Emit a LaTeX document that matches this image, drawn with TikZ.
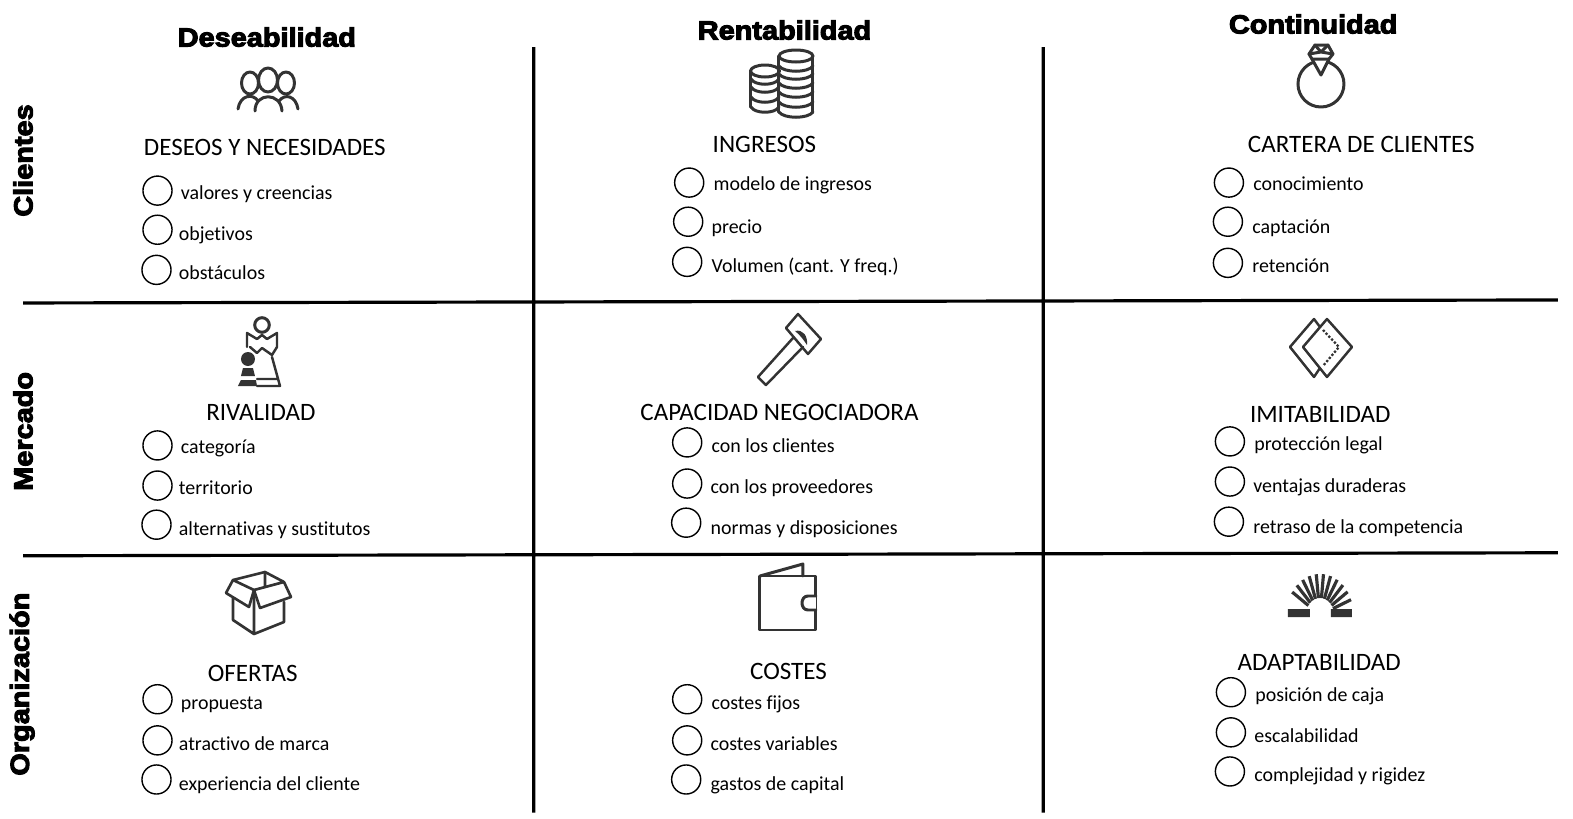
\documentclass[tikz,border=0pt]{standalone}
\usepackage{fontspec}
\setmainfont[Ligatures=NoCommon]{Carlito}
\newfontfamily\headfont[FakeBold=4,FakeStretch=1.1]{Liberation Sans}
\definecolor{icongray}{HTML}{333333}
\tikzset{
  headtext/.style={font=\headfont\bfseries\fontsize{14.9}{15}\selectfont,inner sep=0pt},
  sidetext/.style={headtext,rotate=90},
  titletext/.style={font=\fontsize{14.2}{15}\selectfont,inner sep=0pt,text height=11.5pt,text depth=0.2pt},
  itemtext/.style={font=\fontsize{11.3}{13}\selectfont,inner sep=0pt,anchor=west,text height=9.6pt,text depth=1.2pt},
  tickmark/.style={draw,circle,line width=0.8pt,inner sep=0pt,minimum size=16.5pt},
  gridline/.style={line width=1.8pt},
  icon/.style={draw=icongray,line width=1.7pt,line join=round,line cap=round},
  iconfill/.style={fill=icongray,draw=none}
}
\begin{document}
\begin{tikzpicture}[x=0.02cm,y=-0.02cm]
\path[use as bounding box] (0,0) rectangle (1568,816);
% grid
\coordinate (v1t) at (532,47); \coordinate (v1b) at (532,810);
\coordinate (v2t) at (1040,47); \coordinate (v2b) at (1040,810);
\coordinate (h1l) at (23,302); \coordinate (h1r) at (1553,299);
\coordinate (h2l) at (23,554); \coordinate (h2r) at (1553,551);
\draw[gridline] (v1t)--(v1b) (v2t)--(v2b) (h1l)--(h1r) (h2l)--(h2r);
% headings
\node[headtext] (deseabilidad) at (266,37) {Deseabilidad};
\node[headtext] (rentabilidad) at (782,30) {Rentabilidad};
\node[headtext] (continuidad) at (1309,24) {Continuidad};
\node[sidetext] (clientes) at (23,160) {Clientes};
\node[sidetext] (mercado) at (23,430) {Mercado};
\node[sidetext] (organizacion) at (22,682) {Organización};
% cell titles
\foreach \n/\x/\y/\t in {deseos/264/145/DESEOS Y NECESIDADES,ingresos/762/142/INGRESOS,cartera/1357/142/CARTERA DE CLIENTES,
  rivalidad/260/409/RIVALIDAD,capacidad/777/409/CAPACIDAD NEGOCIADORA,imitabilidad/1316/411/IMITABILIDAD,
  ofertas/252/669/OFERTAS,costes/786/667/COSTES,adaptabilidad/1315/658/ADAPTABILIDAD}
  {\node[titletext] (\n) at (\x,\y) {\t};}
% checklist items
\foreach \n/\cx/\cy/\tx/\ty/\t in {
  a1/157/190/180/191/valores y creencias,a2/157/229/178/232/objetivos,a3/156/269/178/271/obstáculos,
  b1/687/182/711/183/modelo de ingresos,b2/686/221/709/225/precio,b3/685/261/709/264/Volumen (cant. Y freq.),
  c1/1225/182/1249/183/conocimiento,c2/1224/221/1248/225/captación,c3/1224/262/1248/264/retención,
  d1/157/444/180/445/categoría,d2/157/484/178/486/territorio,d3/156/523/178/526/alternativas y sustitutos,
  e1/685/441/709/444/con los clientes,e2/685/482/708/485/con los proveedores,e3/684/521/708/525/normas y disposiciones,
  f1/1226/440/1250/442/protección legal,f2/1226/480/1249/484/ventajas duraderas,f3/1225/520/1249/524/retraso de la competencia,
  g1/157/697/180/700/propuesta,g2/157/738/178/741/atractivo de marca,g3/156/777/178/781/experiencia del cliente,
  h1/685/697/709/700/costes fijos,h2/685/738/708/741/costes variables,h3/684/777/708/781/gastos de capital,
  i1/1227/690/1251/692/posición de caja,i2/1227/730/1250/733/escalabilidad,i3/1226/769/1250/772/complejidad y rigidez}
  {\node[tickmark] (tick\n) at (\cx,\cy) {};
   \node[itemtext] (item\n) at (\tx,\ty) {\t};}
% icons, at the coordinates of the full-size reference
\begin{scope}[scale=0.9968]
% people
\draw[icon] (250,83) ellipse [x radius=8.5,y radius=11];
\draw[icon] (286,83) ellipse [x radius=8.5,y radius=11];
\draw[icon,fill=white] (268,80) ellipse [x radius=9.5,y radius=12];
\draw[icon] (255,111) .. controls (255,92) and (281,92) .. (282,111);
\draw[icon] (238,109) .. controls (240,95) and (253,93) .. (258,101);
\draw[icon] (279,101) .. controls (285,93) and (296,96) .. (298,109);
% coins
\foreach \y in {85,93,103,113} {\draw[icon] (751,\y-6) .. controls (755,\y+1) and (775,\y+1) .. (779,\y-6);}
\draw[icon] (765,71) ellipse [x radius=14.5,y radius=6];
\draw[icon] (751,71)--(751,107);
\draw[icon,fill=white] (796,56) ellipse [x radius=17,y radius=6];
\foreach \y in {72,80,89,98,108,118} {\draw[icon] (779,\y-6) .. controls (784,\y+1) and (808,\y+1) .. (813,\y-6);}
\draw[icon] (779,56)--(779,112) (813,56)--(813,112);
% ring
\draw[icon] (1321,84) circle [radius=23];
\draw[icon,fill=white] (1315,45)--(1328,45)--(1333,54)--(1329,59)--(1321,75)--(1312,59)--(1309,54)--cycle;
\draw[icon] (1312,59)--(1329,59) (1315,45)--(1321,52)--(1328,45) (1309,54)--(1321,52)--(1333,54);
% chess pieces
\draw[icon] (262,325) circle [radius=7.3];
\draw[icon,line width=1.4pt] (257,339)--(247,333)--(247,347) (267,339)--(277,333)--(277,347)--(272,355)--(262,348)--(257,353)--(250,347);
\draw[icon,line width=1.4pt] (257,339)--(262,335)--(267,339);
\draw[icon,line width=1.4pt] (272,357)--(280,386)--(257,386) (257,379)--(278,379);
\fill[iconfill] (248,359) circle [radius=7];
\fill[iconfill] (243,368)--(253,368)--(255,376)--(241,376)--cycle;
\fill[iconfill] (241,380)--(256,380)--(257,386)--(238,386)--cycle;
% hammer
\draw[icon,line width=1.4pt] (798,314)--(821,339)--(808,354)--(786,328)--cycle;
\draw[icon,line width=1.4pt] (793,338)--(758,377)--(766,385)--(803,347);
\fill[iconfill] (795,331) .. controls (803,329) and (808,336) .. (807,345) .. controls (803,339) and (800,335) .. cycle;
% overlapping squares
\draw[icon,line width=1.4pt] (1320,327)--(1314,319)--(1290,347)--(1314,377)--(1320,368);
\draw[icon,line width=1.4pt] (1327,319)--(1303,347)--(1327,377)--(1352,347)--cycle;
\draw[icon,line width=1.3pt,densely dotted,line cap=butt] (1323,330)--(1339,347)--(1323,366);
% box
\draw[icon,line width=1.5pt] (233,580)--(265,572)--(284,582)--(254,590)--cycle;
\draw[icon,line width=1.5pt] (233,580)--(226,593)--(249,607)--(254,590)--(260,608)--(291,597)--(284,582);
\draw[icon,line width=1.5pt] (265,572)--(265,587) (233,598)--(233,620)--(254,634)--(284,622)--(284,602) (254,590)--(254,634);
% wallet
\draw[icon] (760,576)--(803,564)--(803,576);
\draw[icon] (760,576) rectangle (816,630);
\draw[icon,fill=white] (816,596)--(808,596) .. controls (800,596) and (800,610) .. (808,610)--(816,610);
% spring
\foreach \a in {22,34.4,...,158} {\draw[icon,line width=1.8pt,line cap=butt] ({1320+14*cos(\a)},{615-17*sin(\a)})--({1320+33.5*cos(\a)},{615-41*sin(\a)});}
\fill[iconfill] (1288,609) rectangle (1310,617) (1331,609) rectangle (1352,617);
\end{scope}
\end{tikzpicture}
\end{document}
